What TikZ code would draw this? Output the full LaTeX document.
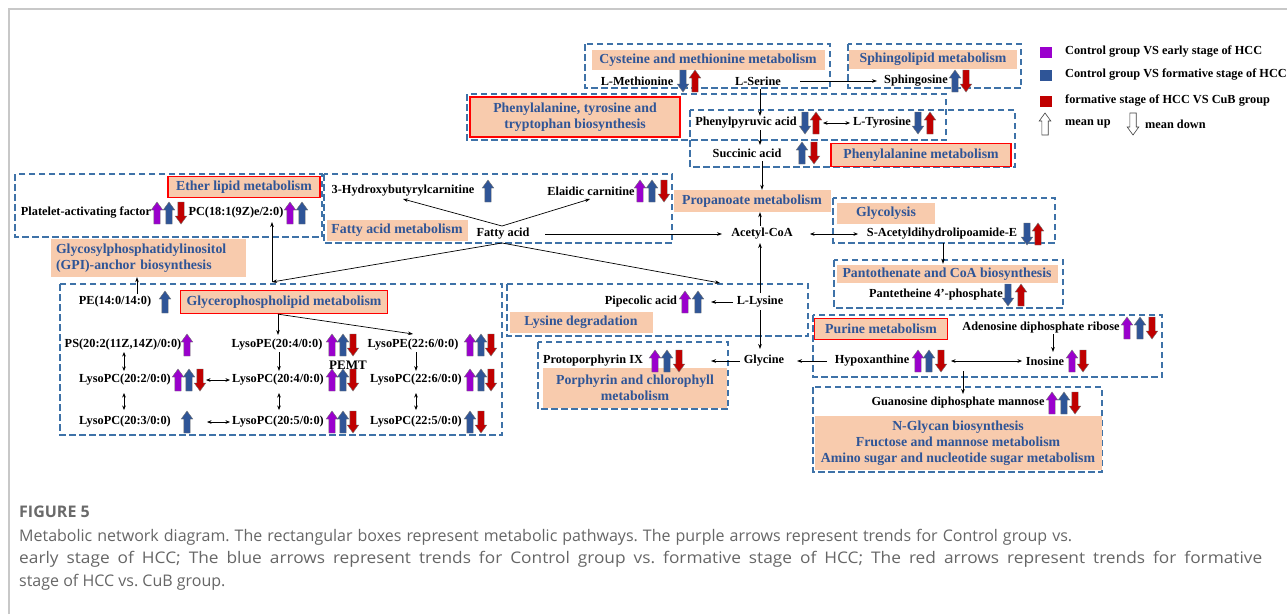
\documentclass[tikz,border=0pt]{standalone}
\usepackage{fontspec}
\setmainfont{Liberation Serif}
\newfontfamily\capfont{Open Sans}
\usetikzlibrary{arrows.meta,calc}
\definecolor{pathblue}{HTML}{2F5597}
\definecolor{peach}{HTML}{F8CBAD}
\definecolor{dashblue}{HTML}{3E72A8}
\definecolor{purA}{HTML}{9A00CD}
\definecolor{bluA}{HTML}{2F5597}
\definecolor{redA}{HTML}{C00000}
\definecolor{capgray}{HTML}{666666}
\definecolor{capdark}{HTML}{6A6A6A}
\definecolor{framegray}{HTML}{C8C8C8}
\tikzset{
 met/.style={font=\bfseries\fontsize{12.3}{14}\selectfont, inner sep=0pt},
 pw/.style={fill=peach, text=pathblue, font=\bfseries\fontsize{13.8}{16}\selectfont, inner sep=0pt, align=center},
 pwr/.style={pw, draw=red, line width=1.3pt},
 dbox/.style={draw=dashblue, line width=1.6pt, dash pattern=on 6.5pt off 3.5pt},
 arr/.style={-{Stealth[length=5pt,width=3.6pt]}, line width=0.7pt},
 darr/.style={{Stealth[length=4.5pt,width=3.6pt]}-{Stealth[length=4.5pt,width=3.6pt]}, line width=0.7pt},
 pu/.style={fill=purA, draw=black!55, line width=0.4pt},
 bl/.style={fill=bluA, draw=black!55, line width=0.4pt},
 rd/.style={fill=redA, draw=black!55, line width=0.4pt},
 wa/.style={fill=white, draw=black!75, line width=0.6pt},
 pics/ua/.style={code={\path[#1] (0,-11)--(5.8,-3)--(3.2,-3)--(3.2,11)--(-3.2,11)--(-3.2,-3)--(-5.8,-3)--cycle;}},
 pics/da/.style={code={\path[#1] (0,11)--(5.8,3)--(3.2,3)--(3.2,-11)--(-3.2,-11)--(-3.2,3)--(-5.8,3)--cycle;}},
 captext/.style={anchor=base west, inner sep=0pt, text=capgray, font=\capfont\frenchspacing\fontsize{16}{18}\selectfont},
}
\begin{document}
\begin{tikzpicture}[x=1pt,y=-1pt]
\useasboundingbox (0,0) rectangle (1287,614);
\fill[white] (0,0) rectangle (1287,614);
\draw[framegray, line width=1.5pt] (9,614) -- (9,9) -- (1287,9);

% dashed pathway regions
\draw[dbox] (585,44) rectangle (830,88);
\draw[dbox] (848,44) rectangle (1021,88);
\draw[dbox] (467,94) rectangle (946,140);
\draw[dbox] (690,110) rectangle (1015,167);
\draw[dbox] (15,174) rectangle (322,237);
\draw[dbox] (324,174) rectangle (672,243);
\draw[dbox] (833,198) rectangle (1055,243);
\draw[dbox] (834,260) rectangle (1063,308);
\draw[dbox] (60,284) rectangle (502,435);
\draw[dbox] (507,284) rectangle (808,336);
\draw[dbox] (538,342) rectangle (728,409);
\draw[dbox] (813,315) rectangle (1162,377);
\draw[dbox] (813,387) rectangle (1102,472);

% pathway labels
\node[pw, minimum width=233pt, minimum height=20pt] (cys) at (708,60) {Cysteine and methionine metabolism};
\node[pw, minimum width=168pt, minimum height=19pt] (sph) at (933,59) {Sphingolipid metabolism};
\node[pwr, minimum width=210pt, minimum height=40pt] (pty) at (575,117) {Phenylalanine, tyrosine and\\tryptophan biosynthesis};
\node[pwr, minimum width=180pt, minimum height=23pt] (phe) at (921,155) {Phenylalanine metabolism};
\node[pwr, minimum width=152pt, minimum height=21pt] (eth) at (244,187) {Ether lipid metabolism};
\node[pw, minimum width=141pt, minimum height=21pt] (fam) at (397,230) {Fatty acid metabolism};
\node[pw, minimum width=157pt, minimum height=22pt] (pro) at (752,201) {Propanoate metabolism};
\node[pw, minimum width=98pt, minimum height=21pt] (gly) at (886,213) {Glycolysis};
\node[pw, minimum width=221pt, minimum height=18pt] (pan) at (947,274) {Pantothenate and CoA biosynthesis};
\node[pw, minimum width=195pt, minimum height=38pt, align=left, text width=185pt] (gpi) at (148.5,258) {Glycosylphosphatidylinositol\\(GPI)-anchor biosynthesis};
\node[pwr, minimum width=207pt, minimum height=23pt] (gpl) at (284,302) {Glycerophospholipid metabolism};
\node[pw, minimum width=143pt, minimum height=21pt] (lys) at (581,322) {Lysine degradation};
\node[pw, minimum width=184pt, minimum height=40pt] (por) at (635,388) {Porphyrin and chlorophyll\\metabolism};
\node[pwr, minimum width=133pt, minimum height=21pt] (pur) at (881,329) {Purine metabolism};
\node[pw, minimum width=287pt, minimum height=54pt] (ngl) at (958,443) {N-Glycan biosynthesis\\Fructose and mannose metabolism\\Amino sugar and nucleotide sugar metabolism};

% metabolites
\node[met] (meth) at (637,81) {L-Methionine};
\pic at (683,81) {da=bl}; \pic at (695,81) {ua=rd};
\node[met] (ser) at (758,81) {L-Serine};
\node[met] (sphn) at (916,81) {Sphingosine};
\pic at (955,81) {ua=bl}; \pic at (966,81) {da=rd};
\node[met] (ppa) at (746,123) {Phenylpyruvic acid};
\pic at (805,123) {da=bl}; \pic at (816,123) {ua=rd};
\node[met] (tyr) at (882,123) {L-Tyrosine};
\pic at (918,123) {da=bl}; \pic at (930,123) {ua=rd};
\node[met] (suc) at (747,153) {Succinic acid};
\pic at (802,153) {ua=bl}; \pic at (814,153) {da=rd};
\node[met] (paf) at (86,213) {Platelet-activating factor};
\pic at (157,213) {ua=pu}; \pic at (169,213) {ua=bl}; \pic at (181,213) {da=rd};
\node[met] (pc18) at (236,213) {PC(18:1(9Z)e/2:0)};
\pic at (290,213) {ua=pu}; \pic at (302,213) {ua=bl};
\node[met] (hbc) at (403,191) {3-Hydroxybutyrylcarnitine};
\pic at (488,191) {ua=bl};
\node[met] (ela) at (591,191) {Elaidic carnitine};
\pic at (640,191) {ua=pu}; \pic at (652,191) {ua=bl}; \pic at (664,191) {da=rd};
\node[met] (fa) at (503,234) {Fatty acid};
\node[met] (acoa) at (762,234) {Acetyl-CoA};
\node[met] (sac) at (942,234) {S-Acetyldihydrolipoamide-E};
\pic at (1027,234) {da=bl}; \pic at (1038,234) {ua=rd};
\node[met] (pant) at (936,295) {Pantetheine 4'-phosphate};
\pic at (1008,295) {da=bl}; \pic at (1021,295) {ua=rd};
\node[met] (pip) at (641,302) {Pipecolic acid};
\pic at (685,302) {ua=pu}; \pic at (698,302) {ua=bl};
\node[met] (lysn) at (760,302) {L-Lysine};
\node[met] (glyc) at (764,361) {Glycine};
\node[met] (ppix) at (593,361) {Protoporphyrin IX};
\pic at (655,361) {ua=pu}; \pic at (667,361) {ua=bl}; \pic at (679,361) {da=rd};
\node[met] (adp) at (1041,328) {Adenosine diphosphate ribose};
\pic at (1127,328) {ua=pu}; \pic at (1140,328) {ua=bl}; \pic at (1152,328) {da=rd};
\node[met] (hyp) at (872,361) {Hypoxanthine};
\pic at (918,361) {ua=pu}; \pic at (929,361) {ua=bl}; \pic at (941,361) {da=rd};
\node[met] (ino) at (1045,361) {Inosine};
\pic at (1072,361) {ua=pu}; \pic at (1083,361) {da=rd};
\node[met] (gdp) at (958,403) {Guanosine diphosphate mannose};
\pic at (1052,403) {ua=pu}; \pic at (1064,403) {ua=bl}; \pic at (1075,403) {da=rd};
\node[met] (pe) at (115,302) {PE(14:0/14:0)};
\pic at (165,302) {ua=bl};
\node[met] (ps) at (123,345) {PS(20:2(11Z,14Z)/0:0)};
\pic at (187,345) {ua=pu};
\node[met] (lpe204) at (277,345) {LysoPE(20:4/0:0)};
\pic at (332,345) {ua=pu}; \pic at (343,345) {ua=bl}; \pic at (353,345) {da=rd};
\node[met] (lpe226) at (413,345) {LysoPE(22:6/0:0)};
\pic at (470,345) {ua=pu}; \pic at (481,345) {ua=bl}; \pic at (491,345) {da=rd};
\node[met, font=\bfseries\fontsize{13}{15}\selectfont] (pemt) at (348,365) {PEMT};
\node[met] (lpc202) at (125,380) {LysoPC(20:2/0:0)};
\pic at (178,380) {ua=pu}; \pic at (189,380) {ua=bl}; \pic at (200,380) {da=rd};
\node[met] (lpc204) at (278,380) {LysoPC(20:4/0:0)};
\pic at (332,380) {ua=pu}; \pic at (343,380) {ua=bl}; \pic at (353,380) {da=rd};
\node[met] (lpc226) at (416,380) {LysoPC(22:6/0:0)};
\pic at (470,380) {ua=pu}; \pic at (481,380) {ua=bl}; \pic at (491,380) {da=rd};
\node[met] (lpc203) at (125,422) {LysoPC(20:3/0:0)};
\pic at (187,422) {ua=bl};
\node[met] (lpc205) at (278,422) {LysoPC(20:5/0:0)};
\pic at (332,422) {ua=pu}; \pic at (343,422) {ua=bl}; \pic at (353,422) {da=rd};
\node[met] (lpc225) at (416,422) {LysoPC(22:5/0:0)};
\pic at (470,422) {ua=bl}; \pic at (481,422) {da=rd};

% junctions
\coordinate (gj) at (272,282);
\coordinate (hj) at ($(hyp)+(91,10)$);
\coordinate (pet) at ($(pe)+(22,-8)$);

% connectors
\draw[arr] ($(ser)+(42,0)$) -- ($(sphn)+(-39,0)$);
\draw[arr] ($(ser)+(2,8)$) -- ($(ppa)+(14,-7)$);
\draw[darr] ($(ppa)+(77,0)$) -- ($(tyr)+(-32,0)$);
\draw[arr] ($(ppa)+(14,7)$) -- ($(suc)+(13,-8)$);
\draw[arr] ($(suc)+(15,8)$) -- ($(pro.north)+(10,0)$);
\draw[arr] ($(acoa)+(-2,-8)$) -- ($(pro.south)+(8,0)$);
\draw[arr] ($(fa)+(42,0)$) -- ($(acoa)+(-40,0)$);
\draw[darr] ($(acoa)+(48,0)$) -- ($(sac)+(-84,0)$);
\draw[arr] ($(sac)+(1,9)$) -- ($(pan.north)+(-4,-1)$);
\draw[arr] ($(lysn)+(0,-9)$) -- ($(acoa)+(-2,9)$);
\draw[arr] ($(fa)+(-1,-8)$) -- ($(hbc)+(0,8)$);
\draw[arr] ($(fa)+(-1,-8)$) -- ($(ela)+(-1,8)$);
\draw[arr] ($(fa)+(-1,9)$) -- ($(lysn)+(-40,-19)$);
\draw[arr] ($(fa)+(-1,9)$) -- (gj);
\draw[arr] (gj) -- ($(pc18)+(36,9)$);
\draw[arr] (pet) -- (pet |- gpi.south);
\draw[arr] ($(lysn)+(-27,0)$) -- ($(pip)+(70,0)$);
\draw[arr] ($(lysn)+(0,8)$) -- ($(glyc)+(-4,-12)$);
\draw[arr] ($(glyc)+(-24,0)$) -- ($(ppix)+(118,0)$);
\draw[arr] ($(hyp)+(-45,0)$) -- ($(glyc)+(33,0)$);
\draw[darr] ($(hyp)+(79,0)$) -- ($(ino)+(-23,0)$);
\draw[arr] ($(adp)+(12,6)$) -- ($(ino)+(8,-9)$);
\draw[arr] (hj) -- ($(gdp)+(5,-9)$);
\draw[arr] ($(gpl.south)+(-6,0)$) -- ($(lpe204)+(1,-10)$);
\draw[arr] ($(gpl.south)+(-6,0)$) -- ($(lpe226)+(0,-11)$);
\draw[darr] ($(ps)+(1,7)$) -- ($(lpc202)+(-1,-9)$);
\draw[arr] ($(lpe204)+(2,7)$) -- ($(lpc204)+(1,-9)$);
\draw[arr] ($(lpe226)+(3,7)$) -- ($(lpc226)+(0,-9)$);
\draw[darr] ($(lpc202)+(81,0)$) -- ($(lpc204)+(-48,0)$);
\draw[darr] ($(lpc202)+(-1,13)$) -- ($(lpc203)+(-1,-12)$);
\draw[darr] ($(lpc204)+(1,13)$) -- ($(lpc205)+(1,-12)$);
\draw[darr] ($(lpc226)+(0,13)$) -- ($(lpc225)+(0,-12)$);
\draw[darr] ($(lpc203)+(82,0)$) -- ($(lpc205)+(-48,0)$);

% legend
\fill[purA] (1040,47) rectangle (1052,58);
\fill[bluA] (1040,70) rectangle (1052,81);
\fill[redA] (1040,96) rectangle (1052,107);
\node[met, anchor=west] (lg1) at (1065,52) {Control group VS early stage of HCC};
\node[met, anchor=west] (lg2) at (1065,75) {Control group VS formative stage of HCC};
\node[met, anchor=west] (lg3) at (1065,101) {formative stage of HCC VS CuB group};
\pic at (1045,124) {ua=wa};
\node[met, anchor=west] (lg4) at (1065,124) {mean up};
\pic at (1133,124) {da=wa};
\node[met, anchor=west] (lg5) at (1145,124) {mean down};

% caption
\node[anchor=base west, inner sep=0pt, text=capdark, font=\capfont\bfseries\fontsize{16}{18}\selectfont] (fig) at (19,517) {FIGURE 5};
\node[captext] (cap1) at (19,541) {\makebox[1053pt][s]{Metabolic network diagram. The rectangular boxes represent metabolic pathways. The purple arrows represent trends for Control group vs.}};
\node[captext] (cap2) at (19,563.5) {\scalebox{1.08}[1]{\makebox[1151pt][s]{early stage of HCC; The blue arrows represent trends for Control group vs. formative stage of HCC; The red arrows represent trends for formative}}};
\node[captext] (cap3) at (19,586) {stage of HCC vs. CuB group.};
\end{tikzpicture}
\end{document}
